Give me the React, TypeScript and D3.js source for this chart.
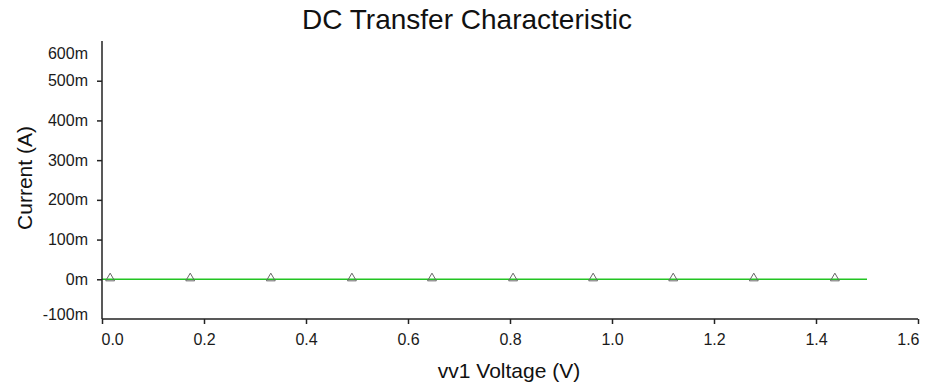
import React, { useEffect, useRef } from "react";
import * as d3 from "d3";

// sweep of vv1 (V) and resulting current (A)
const voltage = [0, 0.25, 0.5, 0.75, 1.0, 1.25, 1.5];
const current = [0, 0, 0, 0, 0, 0, 0];
// marker positions along the trace
const markerVoltage = [0.016, 0.173, 0.331, 0.49, 0.647, 0.806, 0.963, 1.12, 1.278, 1.437];
const xTicks = [0, 0.2, 0.4, 0.6, 0.8, 1.0, 1.2, 1.4, 1.6];
const yTicks = [-0.1, 0, 0.1, 0.2, 0.3, 0.4, 0.5, 0.6];

const width = 934;
const height = 387;
const margin = { left: 102, right: 16, top: 41, bottom: 68 };
const font = "'Liberation Sans', Arial, sans-serif";

export default function App() {
  const axisX = useRef<SVGGElement>(null);
  const axisY = useRef<SVGGElement>(null);

  const x = d3.scaleLinear().domain([0, 1.6]).range([margin.left, width - margin.right]);
  const y = d3.scaleLinear().domain([-0.1, 0.6]).range([height - margin.bottom, margin.top]);

  useEffect(() => {
    const xa = d3.axisBottom(x).tickValues(xTicks).tickFormat(d3.format(".1f")).tickSize(5).tickPadding(10);
    const gx = d3.select(axisX.current!);
    gx.call(xa);
    gx.select(".domain").attr("stroke", "#222").attr("stroke-width", 1.5).attr("d", `M${x(0)},0H${x(1.6)}`);
    gx.selectAll(".tick line").attr("stroke", "#222").attr("stroke-width", 1.5);
    gx.selectAll(".tick text").attr("fill", "#1a1a1a").style("font-family", font).style("font-size", "16px");
    // end labels are kept inside the axis span
    gx.selectAll<SVGGElement, number>(".tick").each(function (d) {
      if (d === 0) d3.select(this).select("text").attr("text-anchor", "start").attr("x", -1);
      if (d === 1.6) d3.select(this).select("text").attr("text-anchor", "end").attr("x", 1);
    });

    const ya = d3.axisLeft(y).tickValues(yTicks)
      .tickFormat((d) => `${Math.round(+d * 1000)}m`).tickSize(5).tickPadding(9);
    const gy = d3.select(axisY.current!);
    gy.call(ya);
    gy.select(".domain").attr("stroke", "#222").attr("stroke-width", 1.5).attr("d", `M0,${y(0.6)}V${y(-0.1)}`);
    gy.selectAll(".tick line").attr("stroke", "#222").attr("stroke-width", 1.5);
    // top and bottom labels sit inside the axis, without tick marks
    gy.selectAll<SVGGElement, number>(".tick").each(function (d) {
      const t = d3.select(this);
      if (d === 0.6) {
        t.select("line").remove();
        t.select("text").attr("dy", "1.1em");
      }
      if (d === -0.1) {
        t.select("line").remove();
        t.select("text").attr("dy", "0.05em");
      }
    });
    gy.selectAll(".tick text").attr("fill", "#1a1a1a").style("font-family", font).style("font-size", "16px");
  }, []);

  const pts = voltage.map((v, i) => [v, current[i]] as [number, number]);
  const line = d3.line<[number, number]>().x((d) => x(d[0])).y((d) => y(d[1]));
  const tri = d3.symbol().type(d3.symbolTriangle).size(34);

  return (
    <svg width={width} height={height} style={{ position: "absolute", left: 0, top: 0, background: "#fff" }}>
      <text x={467} y={29} textAnchor="middle" fontFamily={font} fontSize={28} fill="#111">
        DC Transfer Characteristic
      </text>
      <path d={line(pts) ?? ""} fill="none" stroke="#22c422" strokeWidth={1.5} />
      {markerVoltage.map((v, i) => (
        <path key={i} d={tri() ?? ""} transform={`translate(${x(v)},${y(0) - 1})`}
          fill="none" stroke="#666" strokeWidth={1} />
      ))}
      <g ref={axisX} transform={`translate(0,${height - margin.bottom})`} />
      <g ref={axisY} transform={`translate(${margin.left},0)`} />
      <text x={509} y={378} textAnchor="middle" fontFamily={font} fontSize={21} fill="#111">
        vv1 Voltage (V)
      </text>
      <text transform={`translate(32,${(y(0.6) + y(-0.1)) / 2 - 2}) rotate(-90)`} textAnchor="middle"
        fontFamily={font} fontSize={21} fill="#111">
        Current (A)
      </text>
    </svg>
  );
}
